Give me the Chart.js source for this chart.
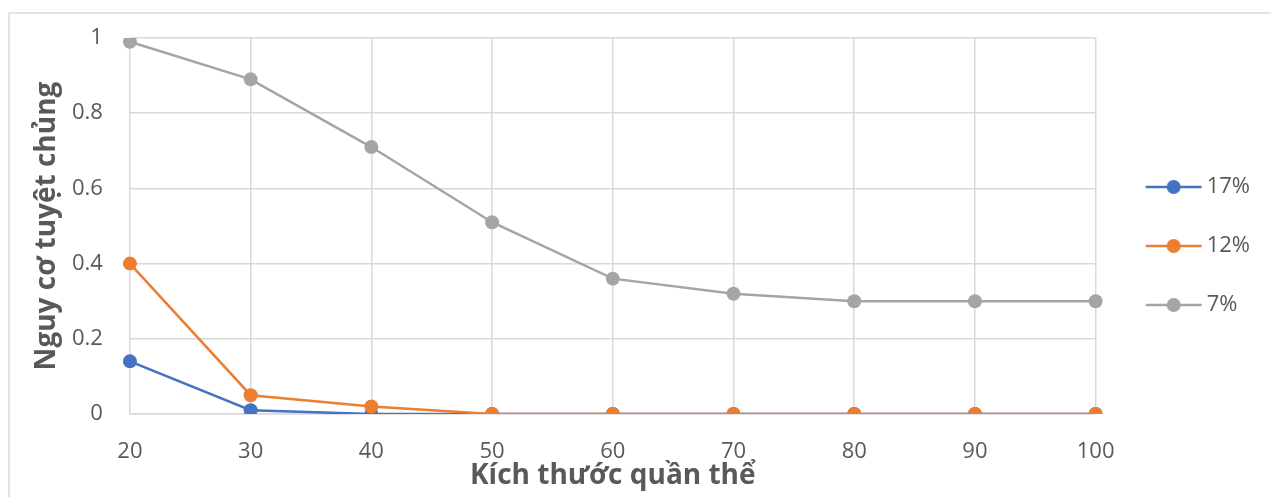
<!DOCTYPE html>
<html>
<head>
<meta charset="utf-8">
<script src="https://cdn.jsdelivr.net/npm/chart.js@4"></script>
<style>
  html, body { margin: 0; padding: 0; background: #fff; }
  #wrap { position: relative; width: 1271px; height: 497px; }
  #frame { position: absolute; left: 8px; top: 12px; right: 0; bottom: 0; border-top: 2px solid #e3e3e3; border-left: 2px solid #e3e3e3; }
  canvas { position: absolute; left: 0; top: 0; }
</style>
</head>
<body>
<div id="wrap">
  <div id="frame"></div>
  <canvas id="chart" width="1271" height="497"></canvas>
</div>
<script>
// kích thước quần thể
const sizes = ['20', '30', '40', '50', '60', '70', '80', '90', '100'];
const seriesNames = ['17%', '12%', '7%'];
const risk17 = [0.14, 0.01, 0, 0, 0, 0, 0, 0, 0];
const risk12 = [0.40, 0.05, 0.02, 0, 0, 0, 0, 0, 0];
const risk7 = [0.99, 0.89, 0.71, 0.51, 0.36, 0.32, 0.30, 0.30, 0.30];
const colors = ['#4472C4', '#ED7D31', '#A5A5A5'];

const font = '"Open Sans", "Noto Sans", sans-serif';
const textColor = '#595959';

// legend symbol: short line with a dot (offset inside a wider canvas)
function legendIcon(color) {
    const c = document.createElement('canvas');
    c.width = 76; c.height = 16;
    const g = c.getContext('2d');
    g.strokeStyle = color; g.lineWidth = 2.5;
    g.beginPath(); g.moveTo(19.5, 8); g.lineTo(75.5, 8); g.stroke();
    g.fillStyle = color;
    g.beginPath(); g.arc(47.5, 8, 7, 0, Math.PI * 2); g.fill();
    return c;
}

const mk = (i, data, order) => ({
    label: seriesNames[i],
    data: data,
    borderColor: colors[i],
    backgroundColor: colors[i],
    borderWidth: 2.5,
    pointRadius: 7,
    pointHoverRadius: 7,
    pointBorderWidth: 0,
    tension: 0,
    order: order
});

new Chart(document.getElementById('chart'), {
    type: 'line',
    data: {
        labels: sizes,
        datasets: [mk(0, risk17, 3), mk(1, risk12, 2), mk(2, risk7, 1)]
    },
    options: {
        responsive: false,
        animation: false,
        layout: { padding: { left: 33, top: 34, right: 11, bottom: 7 } },
        plugins: {
            tooltip: { enabled: false },
            legend: {
                position: 'right',
                align: 'start',
                title: { display: true, text: '', font: { size: 4, lineHeight: 1 }, padding: { top: 101, bottom: 0 } },
                labels: {
                    usePointStyle: true,
                    pointStyleWidth: 63,
                    padding: 37,
                    color: textColor,
                    font: { family: font, size: 22 },
                    sort: (a, b) => a.datasetIndex - b.datasetIndex,
                    generateLabels: (chart) => chart.data.datasets.map((ds, i) => ({
                        text: ds.label,
                        datasetIndex: i,
                        pointStyle: legendIcon(ds.borderColor),
                        fillStyle: ds.borderColor,
                        strokeStyle: ds.borderColor,
                        lineWidth: 0,
                        fontColor: textColor
                    }))
                }
            }
        },
        scales: {
            x: {
                offset: false,
                grid: { color: '#d9d9d9', lineWidth: 1.5, drawTicks: false },
                border: { color: '#d9d9d9', width: 1.5 },
                ticks: { color: textColor, font: { family: font, size: 22, lineHeight: 1 }, padding: 27 },
                title: { display: true, text: 'Kích thước quần thể', color: textColor, font: { family: font, size: 28, weight: 'bold', lineHeight: 1 }, padding: { top: -28, bottom: 0 } }
            },
            y: {
                min: 0, max: 1,
                grid: { color: '#d9d9d9', lineWidth: 1.5, drawTicks: false },
                border: { display: false },
                ticks: { stepSize: 0.2, color: textColor, font: { family: font, size: 22, lineHeight: 1 }, padding: 27, callback: v => +v.toFixed(1) },
                title: { display: true, text: 'Nguy cơ tuyệt chủng', color: textColor, font: { family: font, size: 28, weight: 'bold', lineHeight: 1 }, padding: { top: 0, bottom: -16 } }
            }
        }
    }
});
</script>
</body>
</html>
